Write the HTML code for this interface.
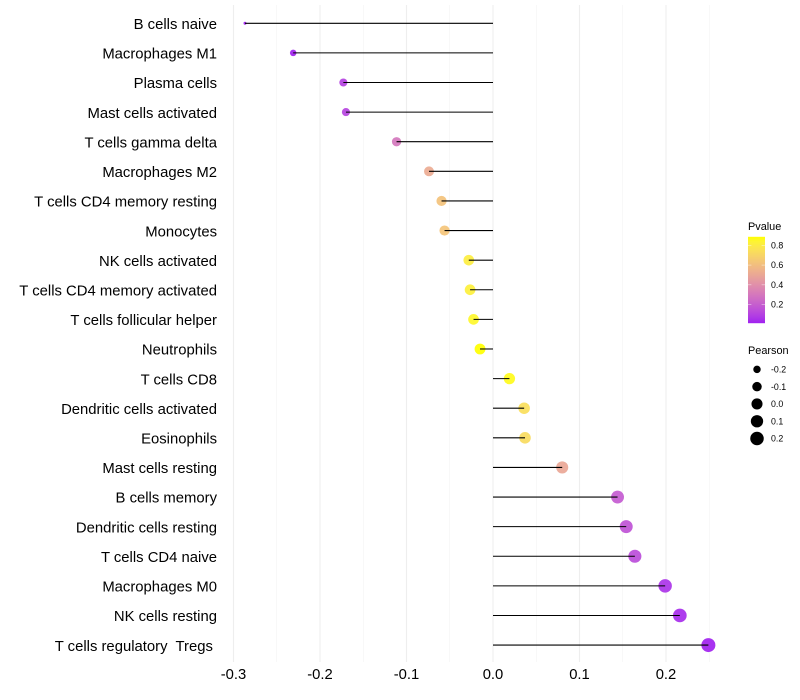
<!DOCTYPE html>
<html lang="en">
<head>
<meta charset="utf-8">
<title>Immune cell correlation lollipop chart</title>
<style>
html,body{margin:0;padding:0;background:#fff;width:800px;height:700px;overflow:hidden}
svg{display:block}
text{font-family:"Liberation Sans",sans-serif}
</style>
</head>
<body>
<svg id="chart" width="800" height="700" viewBox="0 0 800 700" xmlns="http://www.w3.org/2000/svg">
<rect x="0" y="0" width="800" height="700" fill="#ffffff"/>
<g id="grid"></g>
<g id="points"></g>
<g id="stems"></g>
<g id="ylabels"></g>
<g id="xlabels"></g>
<g id="pvalue-legend">
<defs><linearGradient id="pgrad" x1="0" y1="1" x2="0" y2="0"></linearGradient></defs>
<text x="748" y="230" font-size="10.9" fill="#000">Pvalue</text>
<rect x="748" y="236.8" width="17" height="86.4" fill="url(#pgrad)"/>
</g>
<g id="pearson-legend">
<text x="748" y="354" font-size="10.9" fill="#000">Pearson</text>
</g>
</svg>
<script>
const categories = ["B cells naive","Macrophages M1","Plasma cells","Mast cells activated","T cells gamma delta","Macrophages M2","T cells CD4 memory resting","Monocytes","NK cells activated","T cells CD4 memory activated","T cells follicular helper","Neutrophils","T cells CD8","Dendritic cells activated","Eosinophils","Mast cells resting","B cells memory","Dendritic cells resting","T cells CD4 naive","Macrophages M0","NK cells resting","T cells regulatory  Tregs "];
const pearsonValues = [-0.2867,-0.231,-0.173,-0.170,-0.1115,-0.074,-0.0595,-0.056,-0.028,-0.0265,-0.0225,-0.015,0.019,0.036,0.037,0.080,0.144,0.154,0.164,0.199,0.216,0.249];
const pValues = [0.002,0.015,0.10,0.11,0.30,0.52,0.62,0.63,0.81,0.82,0.85,0.886,0.87,0.74,0.73,0.50,0.19,0.16,0.14,0.06,0.04,0.015];
const xTicks = [-0.3,-0.2,-0.1,0.0,0.1,0.2];
const xMinorTicks = [-0.25,-0.15,-0.05,0.05,0.15,0.25];
const pLegendTicks = [0.2,0.4,0.6,0.8];
const sizeLegendValues = [-0.2,-0.1,0.0,0.1,0.2];

const NS = "http://www.w3.org/2000/svg";
function make(tag, attrs, parent, txt){
  const el = document.createElementNS(NS, tag);
  for (const k in attrs) el.setAttribute(k, attrs[k]);
  if (txt !== undefined) el.textContent = txt;
  parent.appendChild(el);
  return el;
}
function slug(s){ return s.trim().toLowerCase().replace(/\s+/g,'-'); }

/* axis functions */
const xScale = v => 493 + v * 865;
const yScale = i => 23.28 + i * 29.61;
const rMin = Math.min(...pearsonValues), rMax = Math.max(...pearsonValues);
const sizeScale = v => {
  const t = Math.max(0, Math.min(1, (v - rMin) / (rMax - rMin)));
  return 1.5 + 5.5 * Math.sqrt(t);
};
const pMin = 0.012, pMax = 0.886;
const pBarY = p => 323.2 - (p - pMin) / (pMax - pMin) * 86.4;

/* Lab interpolated colour scale, purple to yellow */
function rgb2lab(c){
  const f = c.map(u => { u /= 255; return u > 0.04045 ? Math.pow((u + 0.055) / 1.055, 2.4) : u / 12.92; });
  const X = (0.4124*f[0]+0.3576*f[1]+0.1805*f[2])/0.95047;
  const Y = 0.2126*f[0]+0.7152*f[1]+0.0722*f[2];
  const Z = (0.0193*f[0]+0.1192*f[1]+0.9505*f[2])/1.08883;
  const g = t => t > 0.008856 ? Math.cbrt(t) : 7.787*t + 16/116;
  return [116*g(Y)-16, 500*(g(X)-g(Y)), 200*(g(Y)-g(Z))];
}
function lab2rgb(l){
  const fy = (l[0]+16)/116, fx = fy + l[1]/500, fz = fy - l[2]/200;
  const h = t => t*t*t > 0.008856 ? t*t*t : (t-16/116)/7.787;
  const X = h(fx)*0.95047, Y = h(fy), Z = h(fz)*1.08883;
  const lin = [3.2406*X-1.5372*Y-0.4986*Z, -0.9689*X+1.8758*Y+0.0415*Z, 0.0557*X-0.2040*Y+1.0570*Z];
  return lin.map(u => {
    u = u <= 0.0031308 ? 12.92*u : 1.055*Math.pow(u,1/2.4)-0.055;
    return Math.round(Math.max(0,Math.min(1,u))*255);
  });
}
const labLow = rgb2lab([160,32,240]), labHigh = rgb2lab([255,255,0]);
function colorAt(p){
  const t = Math.max(0, Math.min(1, (p - pMin) / (pMax - pMin)));
  const c = lab2rgb(labLow.map((a,i) => a + (labHigh[i]-a)*t));
  return "rgb(" + c.join(",") + ")";
}

/* grid */
const grid = document.getElementById("grid");
xMinorTicks.forEach(v => {
  const l = make("line", {x1:xScale(v),x2:xScale(v),y1:5,y2:662,stroke:"#f0f0f0","stroke-width":0.55}, grid);
  
  
});
xTicks.forEach(v => {
  const l = make("line", {x1:xScale(v),x2:xScale(v),y1:5,y2:662,stroke:"#eeeeee","stroke-width":1.07}, grid);
  
  
});

/* points, then stems on top */
const pointsG = document.getElementById("points");
const stemsG = document.getElementById("stems");
const yLabG = document.getElementById("ylabels");
categories.forEach((name, i) => {
  const v = pearsonValues[i];
  const pt = make("circle", {cx:xScale(v),cy:yScale(i),r:sizeScale(v),fill:colorAt(pValues[i]),"fill-opacity":0.92}, pointsG);
  
  
  const st = make("line", {x1:xScale(0),x2:xScale(v),y1:yScale(i),y2:yScale(i),stroke:"#000","stroke-width":1.07}, stemsG);
  
  
  const lab = make("text", {x:217,y:yScale(i)+5.7,"text-anchor":"end","font-size":14.85,fill:"#000","xml:space":"preserve"}, yLabG, name);
  lab.style.whiteSpace = "pre";
  
  
});

/* x tick labels */
const xLabG = document.getElementById("xlabels");
xTicks.forEach(v => {
  const t = make("text", {x:xScale(v),y:679,"text-anchor":"middle","font-size":14.8,fill:"#000"}, xLabG, v.toFixed(1));
  
  
});

/* colourbar */
const grad = document.getElementById("pgrad");
for (let s = 0; s <= 20; s++){
  const p = pMin + (pMax - pMin) * s / 20;
  make("stop", {offset:(s*5)+"%","stop-color":colorAt(p)}, grad);
}
const pLeg = document.getElementById("pvalue-legend");
pLegendTicks.forEach(p => {
  const y = pBarY(p);
  const a = make("line", {x1:748,x2:751.4,y1:y,y2:y,stroke:"#fff","stroke-width":0.5,"stroke-opacity":0.8}, pLeg);
  
  
  const b = make("line", {x1:761.6,x2:765,y1:y,y2:y,stroke:"#fff","stroke-width":0.5,"stroke-opacity":0.8}, pLeg);
  
  
  const t = make("text", {x:771,y:y+3.1,"font-size":8.8,fill:"#000"}, pLeg, p.toFixed(1));
  
  
});

/* size legend */
const sLeg = document.getElementById("pearson-legend");
sizeLegendValues.forEach((v, i) => {
  const y = 369.4 + i * 17.28;
  const c = make("circle", {cx:757,cy:y,r:sizeScale(v),fill:"#000"}, sLeg);
  
  
  const t = make("text", {x:771,y:y+3.1,"font-size":8.8,fill:"#000"}, sLeg, v.toFixed(1));
  
  
});
</script>
</body>
</html>
